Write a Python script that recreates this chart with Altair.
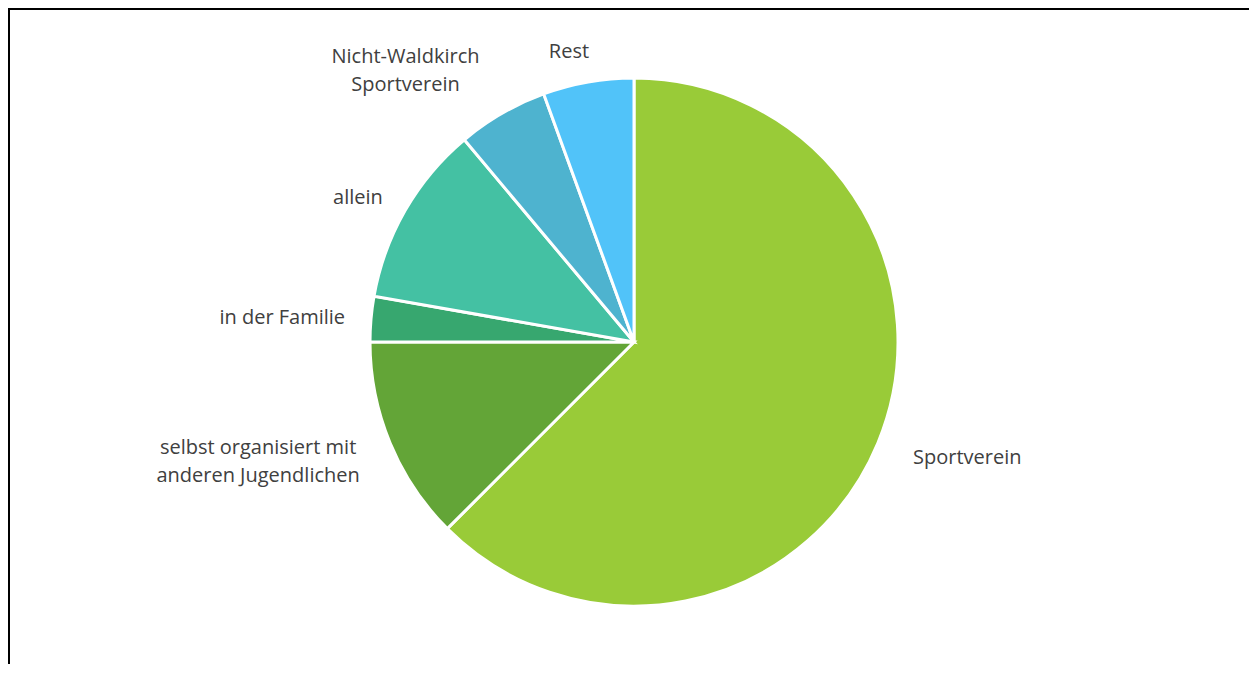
import altair as alt
import pandas as pd

categories = [
    "Sportverein",
    "selbst organisiert mit\nanderen Jugendlichen",
    "in der Familie",
    "allein",
    "Nicht-Waldkirch\nSportverein",
    "Rest",
]
values = [45, 9, 2, 8, 4, 4]
colors = ["#99CB38", "#63A537", "#37A76F", "#44C1A3", "#4EB3CF", "#51C3F9"]

df = pd.DataFrame({"label": categories, "value": values, "idx": list(range(len(categories)))})

W, H = 1241, 656
CX, CY, R = 626, 334, 264
FONT = "Open Sans"
FS = 20
TXT = "#404040"

base = alt.Chart(df)

pie = base.mark_arc(outerRadius=R, stroke="white", strokeWidth=3).encode(
    theta=alt.Theta("value:Q", stack=True),
    order=alt.Order("idx:Q"),
    color=alt.Color("label:N", scale=alt.Scale(domain=categories, range=colors), legend=None),
    x=alt.value(CX),
    y=alt.value(CY),
)

lab = (
    base.transform_joinaggregate(total="sum(value)")
    .transform_window(cum="sum(value)", sort=[alt.SortField("idx")], frame=[None, 0])
    .transform_calculate(
        mid="(datum.cum - datum.value / 2) / datum.total",
        multi="indexof(datum.label, '\\n') >= 0 ? 1 : 0",
    )
)


def text_layer(cond, align, radius, dx=0, dy=0):
    return (
        lab.transform_filter(cond)
        .mark_text(
            align=align,
            baseline="middle",
            radius=radius,
            dx=dx,
            dy=dy,
            font=FONT,
            fontSize=FS,
            color=TXT,
            lineBreak="\n",
            lineHeight=28,
        )
        .encode(
            theta=alt.Theta("mid:Q", scale=alt.Scale(domain=[0, 1], range=[0, 6.283185307179586])),
            x=alt.value(CX),
            y=alt.value(CY),
            text="label:N",
        )
    )


t_top = text_layer("datum.mid > 0.95 || datum.mid < 0.05", "center", 294, dx=-14)
t_right = text_layer("datum.mid >= 0.05 && datum.mid < 0.5", "left", 302)
t_left = text_layer("datum.mid >= 0.5 && datum.mid <= 0.95 && datum.multi == 0", "right", 290, dy=1)
t_multi_up = text_layer("datum.mid >= 0.8 && datum.mid <= 0.95 && datum.multi == 1", "center", 329, dx=-64)
t_multi_low = text_layer("datum.mid >= 0.5 && datum.mid < 0.8 && datum.multi == 1", "center", 277, dx=-120)

dummy = pd.DataFrame({"a": [0]})
top_line = alt.Chart(dummy).mark_rule(color="black", strokeWidth=2).encode(
    x=alt.value(0), x2=alt.value(W), y=alt.value(1)
)
left_line = alt.Chart(dummy).mark_rule(color="black", strokeWidth=2).encode(
    x=alt.value(1), y=alt.value(0), y2=alt.value(H)
)

chart = (
    alt.layer(pie, t_top, t_right, t_left, t_multi_up, t_multi_low, top_line, left_line)
    .resolve_scale(theta="independent")
    .properties(width=W, height=H, padding=0, autosize=alt.AutoSizeParams(type="none"))
    .configure_view(stroke="transparent")
)

chart.save("out.html", embed_options={"renderer": "svg", "actions": False})
